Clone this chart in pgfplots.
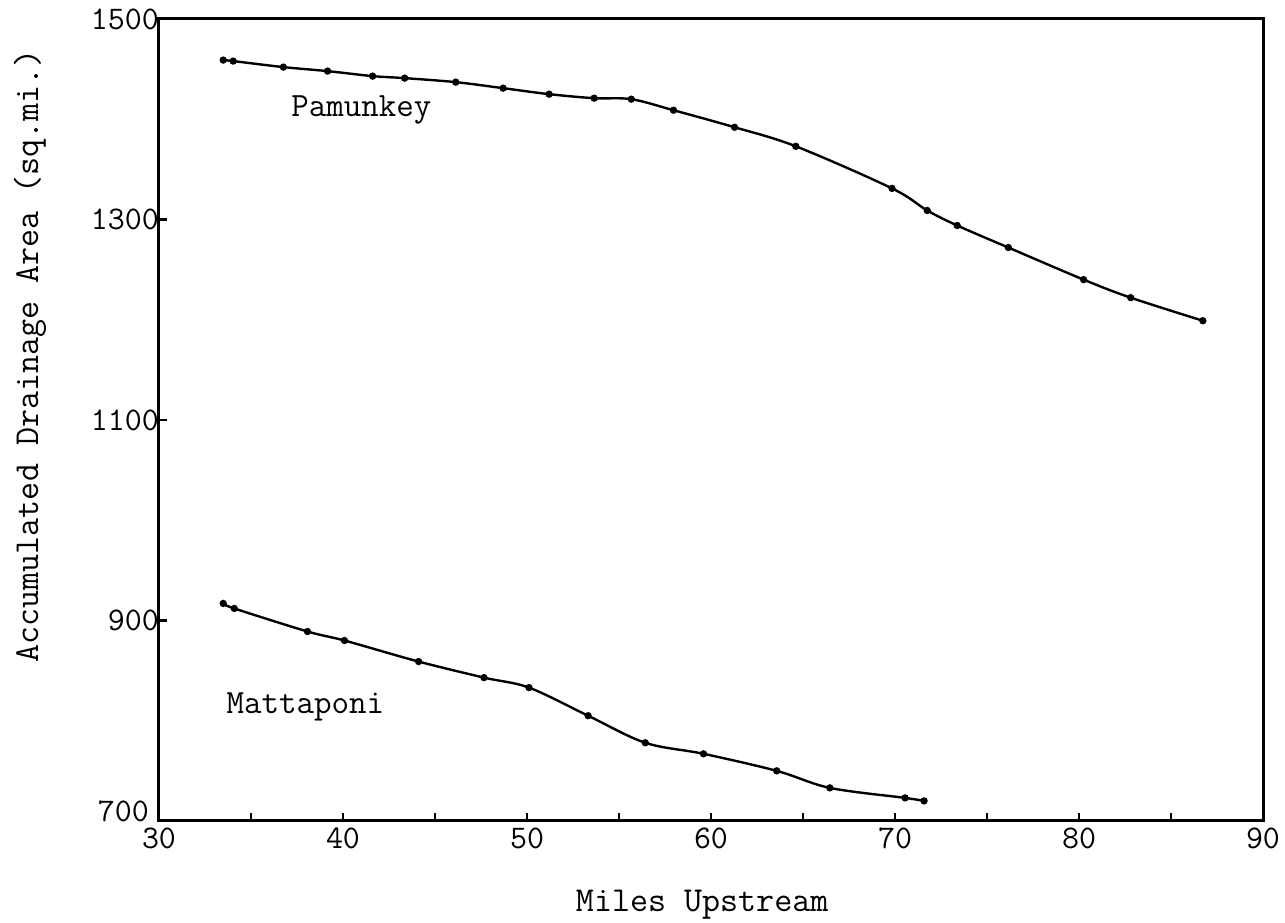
\documentclass[border=0pt]{standalone}
\usepackage{fontspec}
\usepackage{pgfplots}
\pgfplotsset{compat=1.18}
\begin{document}
\begin{tikzpicture}
\begin{axis}[
  name=ax,
  scale only axis,
  width=552pt, height=401pt,
  xmin=30, xmax=90, ymin=700, ymax=1500,
  xtick={30,40,...,90},
  minor xtick={35,45,...,85},
  ytick={900,1100,1300,1500},
  extra y ticks={700},
  extra y tick style={yticklabel style={yshift=5pt, xshift=-5pt}},
  tick pos=left,
  tick align=inside,
  major tick length=4pt,
  minor tick length=4pt,
  every tick/.style={black, line width=1.2pt},
  axis line style={line width=1.5pt},
  /pgf/number format/assume math mode=true,
  /pgf/number format/1000 sep={},
  ticklabel style={font=\fontsize{16.5}{19}\ttfamily},
  yticklabel style={xshift=3.5pt},
  label style={font=\fontsize{17.5}{20}\ttfamily},
  xlabel={Miles Upstream},
  ylabel={Accumulated Drainage Area (sq.mi.)},
  xlabel style={at={(axis description cs:0.492,-0.105)}, anchor=center},
  ylabel style={at={(axis description cs:-0.1168,0.58)}, anchor=center},
  clip=false,
]
\addplot[black, line width=1.2pt, smooth, tension=0.55, mark=*, mark size=1.2pt] coordinates {
  (33.49,1459) (34.03,1458) (36.76,1452) (39.16,1448) (41.61,1443)
  (43.35,1441) (46.13,1437) (48.7,1431) (51.20,1425) (53.65,1421) (55.67,1420)
  (57.96,1409) (61.28,1392) (64.61,1373) (69.84,1331) (71.75,1309)
  (73.38,1294) (76.16,1272) (80.25,1240) (82.81,1222) (86.73,1199)
};
\addplot[black, line width=1.2pt, smooth, tension=0.55, mark=*, mark size=1.2pt] coordinates {
  (33.49,917) (34.09,912) (38.07,889) (40.08,880) (44.11,859)
  (47.66,843) (50.11,833) (53.32,805) (56.43,778) (59.59,767)
  (63.57,750) (66.46,733) (70.55,723) (71.58,720)
};
\node[font=\fontsize{17}{20}\ttfamily] at (axis cs:41.0,1409) {Pamunkey};
\node[font=\fontsize{17}{20}\ttfamily] at (axis cs:37.96,814) {Mattaponi};
\end{axis}
\pgfresetboundingbox
\path[use as bounding box] ([shift={(-79.5pt,-51pt)}]ax.south west) rectangle ([shift={(11pt,9.5pt)}]ax.north east);
\end{tikzpicture}
\end{document}
